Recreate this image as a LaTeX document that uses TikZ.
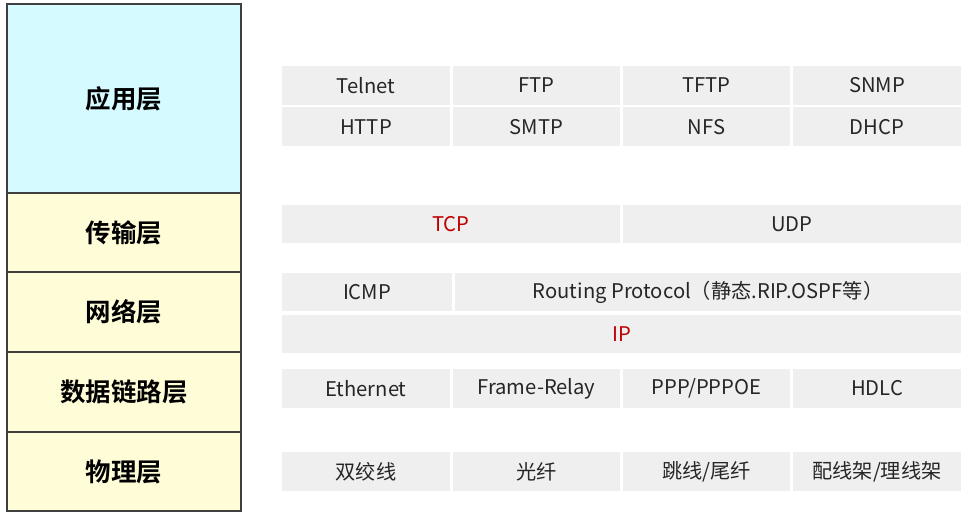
\documentclass[tikz,border=0pt]{standalone}
\usepackage{fontspec}
\setmainfont{Noto Sans CJK SC}[BoldFont={* Bold}]
\usepackage{tikz}
\usetikzlibrary{positioning}
\definecolor{appcol}{HTML}{D5FAFF}
\definecolor{lowcol}{HTML}{FFFDD8}
\definecolor{cellcol}{HTML}{EFEFEF}
\definecolor{txtcol}{HTML}{262626}
\definecolor{hotcol}{HTML}{C00000}

\begin{document}
\begin{tikzpicture}[x=0.02cm, y=-0.02cm,
  layer/.style={draw=black!75, line width=0.8pt, fill=#1, text=black,
    minimum width=4.68cm, font=\fontsize{14.5}{17}\selectfont\bfseries,
    inner sep=0pt},
  cell/.style={fill=cellcol, draw=none, text=txtcol, minimum width=#1,
    minimum height=0.78cm, inner sep=0pt, font=\fontsize{11.5}{14}\selectfont},
  cell/.default=3.36cm,
  hot/.style={text=hotcol}]
\useasboundingbox (0,0) rectangle (973,516);
% layers
\node[layer=appcol, minimum height=3.78cm] (app) at (124,98.5) {应用层};
\node[layer=lowcol, minimum height=1.58cm] (tra) at (124,232.5) {传输层};
\node[layer=lowcol, minimum height=1.6cm] (net) at (124,312) {网络层};
\node[layer=lowcol, minimum height=1.6cm] (lnk) at (124,392) {数据链路层};
\node[layer=lowcol, minimum height=1.58cm] (phy) at (124,471.5) {物理层};
% application protocols
\node[cell] (telnet) at (366,85.5) {Telnet};
\node[cell] (ftp) at (536.5,85.5) {FTP};
\node[cell] (tftp) at (706.5,85.5) {TFTP};
\node[cell] (snmp) at (877,85.5) {SNMP};
\node[cell] (http) at (366,127) {HTTP};
\node[cell] (smtp) at (536.5,127) {SMTP};
\node[cell] (nfs) at (706.5,127) {NFS};
\node[cell] (dhcp) at (877,127) {DHCP};
% transport
\node[cell=6.76cm, hot] (tcp) at (451,224) {TCP};
\node[cell=6.76cm] (udp) at (792,224) {UDP};
% network
\node[cell=3.4cm] (icmp) at (367,292) {ICMP};
\node[cell=10.12cm] (route) at (708,292) {Routing Protocol（静态.RIP.OSPF等）};
\node[cell=13.58cm, hot] (ip) at (621.5,334) {IP};
% data link
\node[cell] (eth) at (366,388.5) {Ethernet};
\node[cell] (fr) at (536.5,388.5) {Frame-Relay};
\node[cell] (ppp) at (706.5,388.5) {PPP/PPPOE};
\node[cell] (hdlc) at (877,388.5) {HDLC};
% physical
\node[cell] (twp) at (366,471.5) {双绞线};
\node[cell] (fib) at (536.5,471.5) {光纤};
\node[cell] (jmp) at (706.5,471.5) {跳线/尾纤};
\node[cell] (odf) at (877,471.5) {配线架/理线架};
\end{tikzpicture}
\end{document}
